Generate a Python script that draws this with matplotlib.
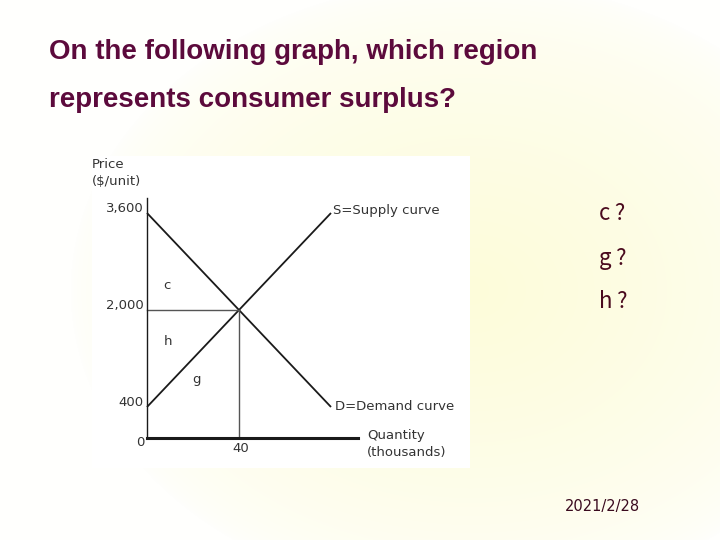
import matplotlib
matplotlib.use('Agg')
import matplotlib.pyplot as plt
import matplotlib.transforms as mtransforms
import numpy as np

# chart data (quantity in thousands, price in $/unit)
quantity = [0, 80]
supply = [400, 3600]
demand = [3600, 400]
eq_q = 40
eq_p = 2000
price_ticks = [400, 2000, 3600]
price_labels = ['400', '2,000', '3,600']
qty_ticks = [40]
qty_labels = ['40']
regions = ['c', 'h', 'g']
region_pos = [(8.7, 2410), (9.1, 1480), (21.7, 860)]
answers = ['c\u2009?', 'g\u2009?', 'h\u2009?']

title_lines = ['On the following graph, which region', 'represents consumer surplus?']
date_text = '2021/2/28'

W, H = 720, 540
fig = plt.figure(figsize=(7.2, 5.4), dpi=100)

# slide background: very faint yellow glow
bg = fig.add_axes([0, 0, 1, 1])
yy, xx = np.mgrid[0:H, 0:W]
r = np.sqrt(((xx - 470) / 400.0) ** 2 + ((yy - 290) / 310.0) ** 2)
t = np.clip(1 - r, 0, 1) ** 0.6
inner = np.array([253, 252, 218]) / 255.0
outer = np.array([255, 255, 253]) / 255.0
img = outer[None, None, :] * (1 - t[..., None]) + inner[None, None, :] * t[..., None]
bg.imshow(img, extent=[0, W, H, 0], aspect='auto')
bg.set_xlim(0, W)
bg.set_ylim(H, 0)
bg.axis('off')

maroon = '#5c0a3c'
for i, line in enumerate(title_lines):
    bg.text(49, 52 + i * 48, line, fontsize=20, fontweight='bold', color=maroon,
            family='Liberation Sans', va='center', ha='left')

for i, a in enumerate(answers):
    bg.text(599, 214 + i * 44, a, fontsize=16, color='#4a0a1e',
            family=['Noto Sans CJK SC', 'DejaVu Sans'], va='center', ha='left')

bg.text(565, 506, date_text, fontsize=10.5, color='#3a0a1e', va='center', ha='left')

# chart panel (white box), pixel box x 92-470, y 156-468
left, right, top, bottom = 92, 470, 156, 468
ax = fig.add_axes([left / W, 1 - bottom / H, (right - left) / W, (bottom - top) / H])
ax.set_facecolor('white')

# pixel mapping: x = 147 + 2.3*Q ; y = 431.25 - 0.060625*P
def q_of(px):
    return (px - 147) / 2.3

def p_of(py):
    return (431.25 - py) / 0.060625

ax.set_xlim(q_of(left), q_of(right))
ax.set_ylim(p_of(bottom), p_of(top))

axis_p = p_of(438)
ink = '#1a1a1a'
txt = '#333333'

for s in ['top', 'right']:
    ax.spines[s].set_visible(False)
ax.spines['left'].set_position(('data', 0))
ax.spines['left'].set_bounds(axis_p, p_of(198))
ax.spines['bottom'].set_position(('data', axis_p))
ax.spines['bottom'].set_bounds(0, q_of(358))
ax.spines['left'].set_linewidth(1.0)
ax.spines['left'].set_color(ink)
ax.spines['bottom'].set_linewidth(2.2)
ax.spines['bottom'].set_color(ink)
ax.set_xticks([])
ax.set_yticks([])

ax.plot(quantity, supply, color=ink, lw=1.3, solid_capstyle='butt')
ax.plot(quantity, demand, color=ink, lw=1.3, solid_capstyle='butt')
ax.plot([0, eq_q], [eq_p, eq_p], color='#555555', lw=1.0)
ax.plot([eq_q, eq_q], [axis_p, eq_p], color='#555555', lw=1.0)

fs = 9.5
up = mtransforms.offset_copy(ax.transData, fig=fig, x=0, y=5, units='dots')
for v, lab in zip(price_ticks, price_labels):
    ax.text(-1.6, v, lab, ha='right', va='center', fontsize=fs, color=txt, transform=up)
for v, lab in zip(qty_ticks, qty_labels):
    ax.text(v + 0.8, p_of(448), lab, ha='center', va='center', fontsize=fs, color=txt)
ax.text(q_of(140), p_of(443), '0', ha='center', va='center', fontsize=fs, color=txt)

ax.text(q_of(92), p_of(173), 'Price\n($/unit)', ha='left', va='center', fontsize=fs,
        color=txt, linespacing=1.45)
ax.text(q_of(367), p_of(444), 'Quantity\n(thousands)', ha='left', va='center', fontsize=fs,
        color=txt, linespacing=1.45)
ax.text(q_of(333), p_of(210), 'S=Supply curve', ha='left', va='center', fontsize=fs, color=txt)
ax.text(q_of(335), p_of(406), 'D=Demand curve', ha='left', va='center', fontsize=fs, color=txt)

for lab, (qx, py) in zip(regions, region_pos):
    ax.text(qx, py, lab, ha='center', va='center', fontsize=fs, color=txt)

fig.savefig('out.png', dpi=100)
